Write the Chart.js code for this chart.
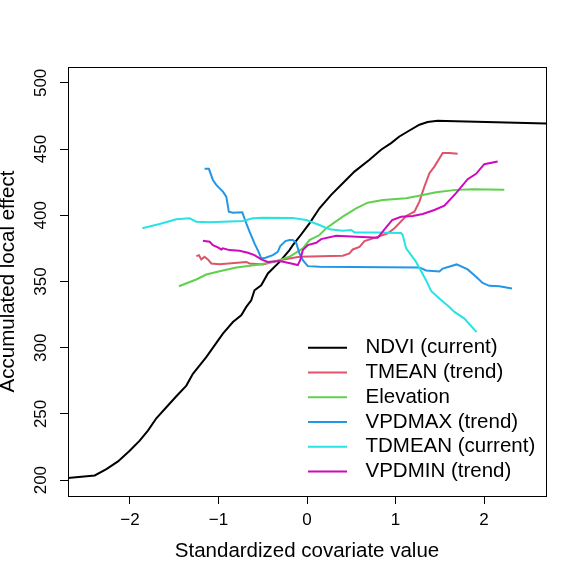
<!DOCTYPE html>
<html>
<head>
<meta charset="utf-8">
<script src="https://cdn.jsdelivr.net/npm/chart.js@4.4.1/dist/chart.umd.min.js"></script>
<style>
  html, body { margin: 0; padding: 0; background: #fff; }
  #wrap { width: 581px; height: 581px; }
</style>
</head>
<body>
<div id="wrap"><canvas id="ale"></canvas></div>
<script>
// series: [standardized value, accumulated local effect]
const ndvi = [[-2.75,201.2],[-2.398,203.5],[-2.266,208.3],[-2.135,214.1],[-2.003,222.2],[-1.890,229.8],
  [-1.797,237.4],[-1.702,246.7],[-1.589,255.0],[-1.476,263.3],[-1.363,271.4],[-1.289,280.3],[-1.138,292.9],
  [-1.044,301.7],[-0.950,310.6],[-0.837,319.4],[-0.743,324.5],[-0.686,330.8],[-0.630,335.8],[-0.593,343.4],
  [-0.517,347.2],[-0.442,356.1],[-0.310,364.8],[-0.198,373.7],[-0.160,377.5],[-0.085,383.8],[0.028,393.9],
  [0.141,405.3],[0.273,415.4],[0.404,424.2],[0.536,433.0],[0.706,441.9],[0.837,449.5],[0.950,454.5],
  [1.044,459.5],[1.138,463.3],[1.270,468.4],[1.363,470.5],[1.476,471.4],[1.571,471.2],[2.75,469.3]];

const tmean = [[-1.251,369.2],[-1.221,369.9],[-1.194,366.7],[-1.157,368.7],[-1.120,366.7],[-1.081,363.6],
  [-0.988,363.1],[-0.686,364.8],[-0.649,363.6],[-0.499,362.9],[-0.310,366.1],[-0.085,368.7],[0.404,369.4],
  [0.480,371.2],[0.517,374.2],[0.593,376.2],[0.649,380.5],[0.781,383.3],[0.912,386.4],[0.988,390.2],
  [1.120,399.5],[1.213,402.7],[1.270,410.3],[1.326,421.7],[1.383,431.8],[1.439,436.8],[1.533,447.0],
  [1.608,447.0],[1.702,446.4]];

const elevation = [[-1.447,346.4],[-1.251,351.5],[-1.138,355.3],[-0.988,357.8],[-0.799,360.6],[-0.536,362.9],
  [-0.348,365.4],[-0.198,368.7],[-0.047,375.0],[0.028,381.3],[0.141,385.1],[0.217,390.2],[0.404,399.0],
  [0.555,405.3],[0.686,409.5],[0.856,411.6],[1.120,412.9],[1.307,415.4],[1.458,417.4],[1.684,419.2],
  [1.871,419.7],[2.229,419.2]];

const vpdmax = [[-1.157,435.1],[-1.108,435.1],[-1.063,426.7],[-1.025,423.0],[-0.950,417.9],[-0.912,414.1],
  [-0.883,402.7],[-0.837,402.0],[-0.731,402.3],[-0.686,393.9],[-0.649,387.6],[-0.593,378.8],[-0.547,372.4],
  [-0.517,367.4],[-0.468,367.9],[-0.386,369.9],[-0.330,372.4],[-0.302,376.7],[-0.243,380.5],[-0.198,381.3],
  [-0.160,381.3],[-0.122,379.2],[-0.085,371.2],[-0.047,366.1],[0.009,361.6],[0.141,361.1],[1.270,360.6],
  [1.345,358.3],[1.495,357.5],[1.533,359.8],[1.691,362.9],[1.815,359.1],[1.910,353.5],[1.984,348.9],
  [2.060,346.7],[2.173,346.4],[2.316,344.7]];

const tdmean = [[-1.860,390.2],[-1.665,393.4],[-1.476,397.0],[-1.326,397.7],[-1.251,395.2],[-1.100,394.7],
  [-0.725,395.7],[-0.612,397.7],[-0.499,398.2],[-0.160,398.0],[-0.009,396.4],[0.141,392.7],[0.254,389.4],
  [0.404,388.3],[0.499,388.9],[0.536,387.1],[0.781,387.1],[1.063,386.6],[1.081,385.1],[1.120,375.0],
  [1.232,364.8],[1.345,351.0],[1.402,342.9],[1.495,337.1],[1.608,330.8],[1.665,327.0],[1.778,322.0],
  [1.916,311.8]];

const vpdmin = [[-1.176,380.8],[-1.100,380.0],[-1.063,377.5],[-1.007,375.8],[-0.968,374.2],[-0.950,375.0],
  [-0.875,373.7],[-0.762,373.2],[-0.668,371.7],[-0.593,369.9],[-0.517,366.7],[-0.442,364.8],[-0.310,365.4],
  [-0.178,363.6],[-0.104,362.4],[-0.077,366.1],[-0.047,373.7],[0.009,377.5],[0.104,379.2],[0.160,382.0],
  [0.330,384.5],[0.799,383.0],[0.875,389.4],[0.962,396.4],[1.063,398.9],[1.194,399.5],[1.307,401.0],
  [1.439,404.0],[1.552,407.3],[1.684,416.7],[1.815,427.3],[1.910,431.3],[2.003,438.6],[2.154,440.6]];

const seriesNames = ['NDVI (current)', 'TMEAN (trend)', 'Elevation', 'VPDMAX (trend)', 'TDMEAN (current)', 'VPDMIN (trend)'];
const seriesData = [ndvi, tmean, elevation, vpdmax, tdmean, vpdmin];
const seriesColors = ['#000000', '#DF536B', '#61D04F', '#2297E6', '#28E2E5', '#CD0BBC'];

const xTicks = [-2, -1, 0, 1, 2];
const yTicks = [200, 250, 300, 350, 400, 450, 500];

const FONT = '"Liberation Sans", Arial, Helvetica, sans-serif';

// R style box round the plot region
const frame = {
  id: 'frame',
  afterDraw(chart) {
    const {ctx, chartArea: a} = chart;
    ctx.save();
    ctx.strokeStyle = '#000';
    ctx.lineWidth = 1;
    ctx.strokeRect(Math.round(a.left) + 0.5, Math.round(a.top) + 0.5,
      Math.round(a.right - a.left), Math.round(a.bottom - a.top));
    ctx.restore();
  }
};

// legend in the bottom right corner, no box
const cornerLegend = {
  id: 'cornerLegend',
  afterDraw(chart) {
    const {ctx, chartArea: a} = chart;
    const sets = chart.data.datasets;
    ctx.save();
    ctx.font = '20.5px ' + FONT;
    ctx.textBaseline = 'middle';
    ctx.textAlign = 'left';
    sets.forEach((ds, i) => {
      const y = a.bottom - 24.5 - (sets.length - 1 - i) * 24.75;
      ctx.strokeStyle = ds.borderColor;
      ctx.lineWidth = 2;
      ctx.beginPath();
      ctx.moveTo(a.right - 238, y);
      ctx.lineTo(a.right - 199, y);
      ctx.stroke();
      ctx.fillStyle = '#000';
      ctx.fillText(ds.label, a.right - 180.5, y);
    });
    ctx.restore();
  }
};

const ctx = document.getElementById('ale').getContext('2d');

new Chart(ctx, {
  type: 'scatter',
  data: {
    datasets: seriesData.map((pts, i) => ({
      label: seriesNames[i],
      data: pts.map(p => ({x: p[0], y: p[1]})),
      showLine: true,
      borderColor: seriesColors[i],
      backgroundColor: seriesColors[i],
      borderWidth: 2,
      pointRadius: 0,
      tension: 0,
      order: seriesData.length - i
    }))
  },
  options: {
    responsive: true,
    maintainAspectRatio: false,
    animation: false,
    layout: { padding: { top: 67, right: 35, bottom: 0, left: 0 } },
    plugins: {
      legend: { display: false },
      tooltip: { enabled: false }
    },
    scales: {
      x: {
        type: 'linear',
        min: -2.7,
        max: 2.7,
        afterBuildTicks: s => { s.ticks = xTicks.map(v => ({value: v})); },
        afterFit: s => { s.height = 85; },
        border: { display: false },
        grid: { drawOnChartArea: false, drawTicks: true, tickLength: 8, color: '#000' },
        ticks: {
          color: '#000',
          padding: 6.5,
          maxRotation: 0,
          font: { family: FONT, size: 17 },
          callback: v => String(v).replace('-', '\u2212')
        },
        title: {
          display: true,
          text: 'Standardized covariate value',
          color: '#000',
          font: { family: FONT, size: 20.5, lineHeight: 1.2 },
          padding: { top: 0, bottom: 17 }
        }
      },
      y: {
        type: 'linear',
        min: 188,
        max: 512,
        afterBuildTicks: s => { s.ticks = yTicks.map(v => ({value: v})); },
        afterFit: s => { s.width = 68; },
        border: { display: false },
        grid: { drawOnChartArea: false, drawTicks: true, tickLength: 8, color: '#000' },
        ticks: {
          color: '#000',
          padding: 5,
          minRotation: 90,
          maxRotation: 90,
          crossAlign: 'center',
          font: { family: FONT, size: 17 }
        },
        title: {
          display: true,
          text: 'Accumulated local effect',
          color: '#000',
          font: { family: FONT, size: 20.5, lineHeight: 0.8 },
          padding: { top: 0.5, bottom: 0 }
        }
      }
    }
  },
  plugins: [frame, cornerLegend]
});
</script>
</body>
</html>
